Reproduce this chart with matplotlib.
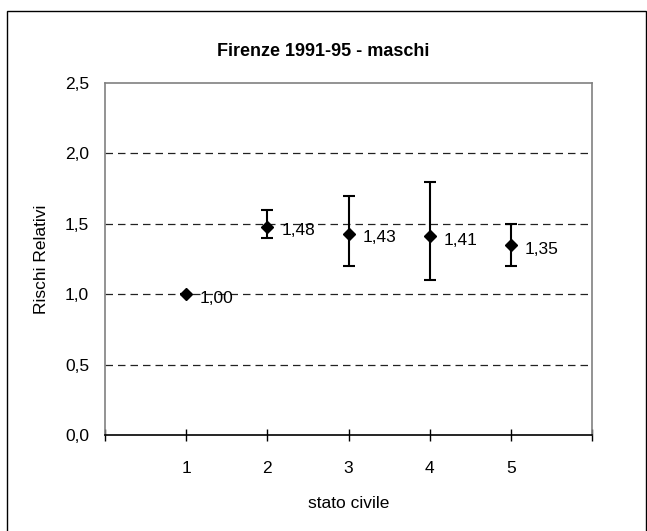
import matplotlib.pyplot as plt
from matplotlib.patches import Rectangle

plt.rcParams['font.family'] = ['Liberation Sans', 'DejaVu Sans']

stato = [1, 2, 3, 4, 5]
rr = [1.00, 1.48, 1.43, 1.41, 1.35]
ic_low = [1.00, 1.40, 1.20, 1.10, 1.20]
ic_high = [1.00, 1.60, 1.70, 1.80, 1.50]
etichette = ['1,00', '1,48', '1,43', '1,41', '1,35']
yticks = [0.0, 0.5, 1.0, 1.5, 2.0, 2.5]
ytick_labels = ['0,0', '0,5', '1,0', '1,5', '2,0', '2,5']

W, H = 647, 531
fig = plt.figure(figsize=(W/100, H/100), dpi=100)
ax = fig.add_axes([105/W, 1-435/H, (592-105)/W, (435-83)/H])

# bordo del grafico
fig.patches.append(Rectangle((7/W, -5/H), 639/W, (H-11+5)/H, transform=fig.transFigure,
                             fill=False, edgecolor='black', linewidth=1.0))

err_lo = [v - l for v, l in zip(rr, ic_low)]
err_hi = [h - v for v, h in zip(rr, ic_high)]
ax.errorbar(stato, rr, yerr=[err_lo, err_hi], fmt='D', color='black', markersize=6.5,
            ecolor='black', elinewidth=1.5, capsize=4.5, capthick=1.5, zorder=3)

for x, y, t in zip(stato, rr, etichette):
    ax.annotate(t, (x, y), xytext=(10, -3), textcoords='offset points',
                va='center', ha='left', fontsize=12.5)

for g in [0.5, 1.0, 1.5, 2.0]:
    ax.axhline(g, color='#222222', linestyle=(0, (6, 4)), linewidth=0.9, zorder=1)

ax.set_xlim(0, 6)
ax.set_ylim(0, 2.5)
ax.set_xticks(range(0, 7))
ax.set_xticklabels(['', '1', '2', '3', '4', '5', ''])
ax.set_yticks(yticks)
ax.set_yticklabels(ytick_labels)
ax.tick_params(axis='x', direction='inout', length=9, width=1, labelsize=12.5, pad=14)
ax.tick_params(axis='y', length=0, labelsize=12.5, pad=11.5)

for s in ['top', 'right', 'left']:
    ax.spines[s].set_color('#808080')
    ax.spines[s].set_linewidth(1.2)
ax.spines['bottom'].set_color('black')
ax.spines['bottom'].set_linewidth(1.2)

ax.set_xlabel('stato civile', fontsize=12.5, va='center')
ax.xaxis.set_label_coords(0.5, -68/352)
ax.set_ylabel('Rischi Relativi', fontsize=12.5, va='center', ha='center')
ax.yaxis.set_label_coords(-63/487, 0.5)
fig.text(323/W, 1 - 51/H, 'Firenze 1991-95 - maschi',
         ha='center', va='center', fontsize=13, fontweight='bold')

fig.savefig('out.png', dpi=100)
